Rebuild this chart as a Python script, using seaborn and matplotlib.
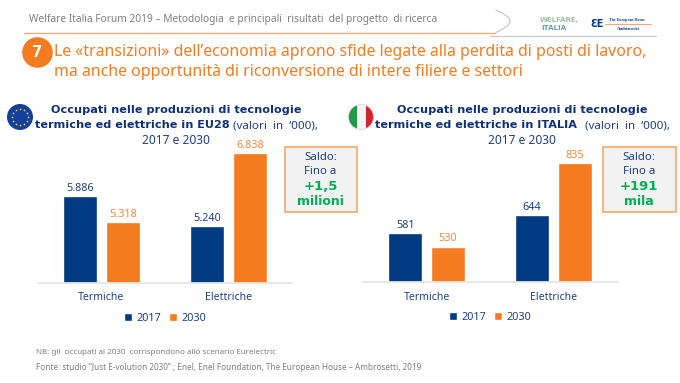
import numpy as np
import pandas as pd
import matplotlib
matplotlib.use('Agg')
import matplotlib.pyplot as plt
from matplotlib.patches import Circle, Rectangle
import seaborn as sns

# Values (thousands of workers)
CATEGORIES = ['Termiche', 'Elettriche']
YEARS = ['2017', '2030']
EU_2017 = [5886, 5240]
EU_2030 = [5318, 6838]
IT_2017 = [581, 644]
IT_2030 = [530, 835]

BLUE = '#003a80'
ORANGE = '#f47b20'
TEXT_BLUE = '#1f3f86'
DARK_BLUE = '#0f2f78'
GREEN = '#00b050'
GREY = '#7f7f7f'
BOLD = 'DejaVu Sans'

W, H = 680, 383

sns.set_theme(style='white')
plt.rcParams['font.family'] = ['Noto Sans', 'DejaVu Sans']

fig = plt.figure(figsize=(W / 100, H / 100), dpi=100, facecolor='white')


def axes_px(x0, y0, x1, y1):
    # axes rectangle given in image pixels, y going down
    return fig.add_axes([x0 / W, 1 - y1 / H, (x1 - x0) / W, (y1 - y0) / H])


def format_it(v):
    return f'{v:,.0f}'.replace(',', '.')


def draw_panel(ax, v2017, v2030, ymin, ymax):
    df = pd.DataFrame({
        'cat': CATEGORIES * 2,
        'year': [YEARS[0]] * 2 + [YEARS[1]] * 2,
        'val': list(v2017) + list(v2030),
    })
    sns.barplot(data=df, x='cat', y='val', hue='year', hue_order=YEARS,
                palette=[BLUE, ORANGE], width=0.67, gap=0.2, ax=ax,
                saturation=1, legend=True)
    ax.set_ylim(ymin, ymax)
    ax.set_xlim(-0.5, 1.5)
    ax.set_xlabel('')
    ax.set_ylabel('')
    ax.set_yticks([])
    for s in ['top', 'left', 'right']:
        ax.spines[s].set_visible(False)
    ax.spines['bottom'].set_color('#e6e6e6')
    ax.spines['bottom'].set_linewidth(1.3)
    ax.tick_params(axis='x', length=0, pad=7, labelsize=7.6, labelcolor=TEXT_BLUE)
    ax.patch.set_alpha(0)
    for cont, col in zip(ax.containers, [TEXT_BLUE, '#f58a3c']):
        ax.bar_label(cont, labels=[format_it(v) for v in cont.datavalues],
                     color=col, fontsize=7.8, padding=1.5)
    handles, labels = ax.get_legend_handles_labels()
    ax.legend(handles, labels, ncol=2, frameon=False, loc='upper center',
              bbox_to_anchor=(0.5, -0.22), fontsize=7.8, labelcolor=TEXT_BLUE,
              handlelength=0.75, handleheight=0.75, handletextpad=0.4,
              columnspacing=0.7, borderpad=0, borderaxespad=0)


ax_eu = axes_px(38, 145, 292, 282.7)
draw_panel(ax_eu, EU_2017, EU_2030, 3990, 7015)
ax_it = axes_px(363.3, 145, 616.7, 282)
draw_panel(ax_it, IT_2017, IT_2030, 400, 902)

# overlay in image pixels for slide furniture
top = fig.add_axes([0, 0, 1, 1], zorder=5)
top.set_xlim(0, W)
top.set_ylim(H, 0)
top.axis('off')
top.patch.set_alpha(0)

# header
top.text(29, 19.5, 'Welfare Italia Forum 2019 – Metodologia  e principali  risultati  del progetto  di ricerca',
         color=GREY, fontsize=7.35, va='center')
top.plot([24, 495], [32.5, 32.5], color='#f8a878', lw=1.0)
curve_t = np.linspace(0, 1, 30)
top.plot(496 + 14 * np.sin(curve_t * np.pi), 10 + 22.5 * curve_t, color='#c8c8c8', lw=0.9)
top.plot([490, 656], [36, 36], color='#c8c8c8', lw=0.9)

# logos, small text only
top.text(540, 20, 'WELFARE,', color='#9cc4a0', fontsize=5.1, family=BOLD, fontweight='bold', va='center')
top.text(541, 27.5, 'ITALIA', color='#6a9fb0', fontsize=5.1, family=BOLD, fontweight='bold', va='center')
top.text(597, 24, 'ƐE', color=BLUE, fontsize=7, family=BOLD, ha='center', va='center', fontweight='bold')
top.text(627, 20, 'The European House', color=BLUE, fontsize=2.9, ha='center', va='center',
         family='Liberation Serif', fontweight='bold')
top.plot([605, 651], [24.3, 24.3], color='#f8a878', lw=0.8)
top.text(628, 28.5, 'Ambrosetti', color=BLUE, fontsize=3.4, ha='center', va='center',
         family='Liberation Serif', fontweight='bold')

# headline
top.add_patch(Circle((37.5, 52.5), 15.3, color=ORANGE, lw=0))
top.text(37.5, 52.5, '7', color='white', fontsize=10.5, family=BOLD, fontweight='bold', ha='center', va='center')
top.text(54, 52, 'Le «transizioni» dell’economia aprono sfide legate alla perdita di posti di lavoro,',
         color=ORANGE, fontsize=11.45, va='center')
top.text(54, 72, 'ma anche opportunità di riconversione di intere filiere e settori',
         color=ORANGE, fontsize=11.45, va='center')

# panel titles
top.text(176, 110, 'Occupati nelle produzioni di tecnologie', color=DARK_BLUE, fontsize=8.1,
         family=BOLD, fontweight='bold', ha='center', va='center')
top.text(35, 125.5, 'termiche ed elettriche in EU28', color=DARK_BLUE, fontsize=8.1,
         family=BOLD, fontweight='bold', va='center')
top.text(233, 125.5, '(valori  in  ‘000),', color=TEXT_BLUE, fontsize=8.4, va='center')
top.text(176, 141, '2017 e 2030', color=TEXT_BLUE, fontsize=8.6, ha='center', va='center')

top.text(522, 110, 'Occupati nelle produzioni di tecnologie', color=DARK_BLUE, fontsize=8.1,
         family=BOLD, fontweight='bold', ha='center', va='center')
top.text(375, 125.5, 'termiche ed elettriche in ITALIA', color=DARK_BLUE, fontsize=8.1,
         family=BOLD, fontweight='bold', va='center')
top.text(585, 125.5, '(valori  in  ‘000),', color=TEXT_BLUE, fontsize=8.4, va='center')
top.text(522, 141, '2017 e 2030', color=TEXT_BLUE, fontsize=8.6, ha='center', va='center')

# EU flag
top.add_patch(Circle((20, 117), 13, color='#123f9c', lw=0))
ang = np.linspace(0, 2 * np.pi, 12, endpoint=False)
top.scatter(20 + 8 * np.cos(ang), 117 + 8 * np.sin(ang), s=1.6, color='#e8d23a', lw=0)

# Italian flag
clip = Circle((361, 117), 12.5, transform=top.transData)
for x0, wd, col in [(348, 8.5, '#1f9a45'), (356.5, 9, '#f4f4f4'), (365.5, 8.5, '#d3232e')]:
    r = Rectangle((x0, 104), wd, 26, color=col, lw=0)
    top.add_patch(r)
    r.set_clip_path(clip)
top.add_patch(Circle((361, 117), 12.5, fill=False, ec='#d8d8d8', lw=0.5))


# saldo boxes
def saldo(x0, x1, line3, line4):
    top.add_patch(Rectangle((x0, 147), x1 - x0, 65, fc='#f2f2f2', ec='#f8a060', lw=1.1))
    xc = (x0 + x1) / 2
    top.text(xc, 158, 'Saldo:', color=TEXT_BLUE, fontsize=8.2, ha='center', va='center')
    top.text(xc, 171.5, 'Fino a', color=TEXT_BLUE, fontsize=8.2, ha='center', va='center')
    top.text(xc, 186, line3, color=GREEN, fontsize=9.5, family=BOLD, fontweight='bold', ha='center', va='center')
    top.text(xc, 201.5, line4, color=GREEN, fontsize=9, family=BOLD, fontweight='bold', ha='center', va='center')


saldo(284.5, 356.5, '+1,5', 'milioni')
saldo(603, 675.5, '+191', 'mila')

# notes
top.text(36, 352, 'NB: gli  occupati al 2030  corrispondono allo scenario Eurelectric',
         color=GREY, fontsize=5.75, va='center')
top.text(36, 368, 'Fonte: studio “Just E-volution 2030” ; Enel, Enel Foundation, The European House – Ambrosetti, 2019',
         color=GREY, fontsize=5.9, va='center')

fig.savefig('out.png', dpi=100)
